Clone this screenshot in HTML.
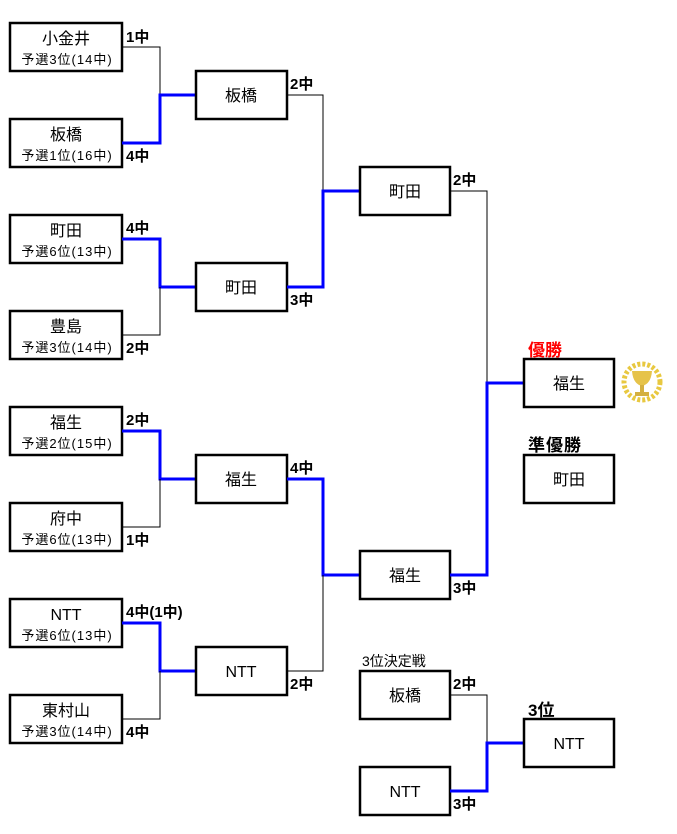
<!DOCTYPE html>
<html><head><meta charset="utf-8"><style>
html,body{margin:0;padding:0;background:#fff;}
svg{display:block;font-family:"Liberation Sans","Noto Sans CJK JP",sans-serif;}
.b{fill:#fff;stroke:#000;stroke-width:2.5;}
.t{fill:none;stroke:#000;stroke-width:1;}
.w{fill:none;stroke:#0000ff;stroke-width:3;}
.n{font-size:16px;text-anchor:middle;}
.s{font-size:13px;text-anchor:middle;letter-spacing:1px;}
.sc{font-size:15px;font-weight:bold;}
</style></head><body>
<svg width="677" height="834" viewBox="0 0 677 834">
<g>
<rect class="b" x="10" y="23" width="112" height="48"/><text class="n" x="66" y="44">小金井</text><text class="s" x="67" y="64">予選3位(14中)</text>
<rect class="b" x="10" y="119" width="112" height="48"/><text class="n" x="66" y="140">板橋</text><text class="s" x="67" y="160">予選1位(16中)</text>
<rect class="b" x="10" y="215" width="112" height="48"/><text class="n" x="66" y="236">町田</text><text class="s" x="67" y="256">予選6位(13中)</text>
<rect class="b" x="10" y="311" width="112" height="48"/><text class="n" x="66" y="332">豊島</text><text class="s" x="67" y="352">予選3位(14中)</text>
<rect class="b" x="10" y="407" width="112" height="48"/><text class="n" x="66" y="428">福生</text><text class="s" x="67" y="448">予選2位(15中)</text>
<rect class="b" x="10" y="503" width="112" height="48"/><text class="n" x="66" y="524">府中</text><text class="s" x="67" y="544">予選6位(13中)</text>
<rect class="b" x="10" y="599" width="112" height="48"/><text class="n" x="66" y="620">NTT</text><text class="s" x="67" y="640">予選6位(13中)</text>
<rect class="b" x="10" y="695" width="112" height="48"/><text class="n" x="66" y="716">東村山</text><text class="s" x="67" y="736">予選3位(14中)</text>
</g>
<polyline class="t" points="122,47 160,47 160,95"/>
<polyline class="w" points="122,143 160,143 160,95 196,95"/>
<polyline class="w" points="122,239 160,239 160,287 196,287"/>
<polyline class="t" points="122,335 160,335 160,287"/>
<polyline class="w" points="122,431 160,431 160,479 196,479"/>
<polyline class="t" points="122,527 160,527 160,479"/>
<polyline class="w" points="122,623 160,623 160,671 196,671"/>
<polyline class="t" points="122,719 160,719 160,671"/>
<text class="sc" x="126" y="42">1中</text>
<text class="sc" x="126" y="161">4中</text>
<text class="sc" x="126" y="233">4中</text>
<text class="sc" x="126" y="353">2中</text>
<text class="sc" x="126" y="425">2中</text>
<text class="sc" x="126" y="545">1中</text>
<text class="sc" x="126" y="617">4中(1中)</text>
<text class="sc" x="126" y="737">4中</text>
<rect class="b" x="196" y="71" width="91" height="48"/><text class="n" x="241" y="101">板橋</text>
<rect class="b" x="196" y="263" width="91" height="48"/><text class="n" x="241" y="293">町田</text>
<rect class="b" x="196" y="455" width="91" height="48"/><text class="n" x="241" y="485">福生</text>
<rect class="b" x="196" y="647" width="91" height="48"/><text class="n" x="241" y="677">NTT</text>
<polyline class="t" points="287,95 323,95 323,191"/>
<polyline class="w" points="287,287 323,287 323,191 360,191"/>
<polyline class="w" points="287,479 323,479 323,575 360,575"/>
<polyline class="t" points="287,671 323,671 323,575"/>
<text class="sc" x="290" y="89">2中</text>
<text class="sc" x="290" y="305">3中</text>
<text class="sc" x="290" y="473">4中</text>
<text class="sc" x="290" y="689">2中</text>
<rect class="b" x="360" y="167" width="90" height="48"/><text class="n" x="405" y="197">町田</text>
<rect class="b" x="360" y="551" width="90" height="48"/><text class="n" x="405" y="581">福生</text>
<polyline class="t" points="450,191 487,191 487,383"/>
<polyline class="w" points="450,575 487,575 487,383 524,383"/>
<text class="sc" x="453" y="185">2中</text>
<text class="sc" x="453" y="593">3中</text>
<text x="528" y="356" font-size="17" font-weight="bold" fill="#ff0000">優勝</text>
<rect class="b" x="524" y="359" width="90" height="48"/><text class="n" x="569" y="389">福生</text>
<text x="528" y="451" font-size="17" font-weight="bold" letter-spacing="1">準優勝</text>
<rect class="b" x="524" y="455" width="90" height="48"/><text class="n" x="569" y="485">町田</text>
<g>
<circle cx="642" cy="382" r="18" fill="none" stroke="#e8c840" stroke-width="5" stroke-dasharray="3 2"/>
<path d="M632,371 L652,371 Q651,384 642,386 Q633,384 632,371 Z" fill="#e6c34a"/>
<rect x="640" y="385" width="4" height="7" fill="#d4b040"/>
<rect x="635" y="392" width="14" height="4" fill="#d4b040"/>
</g>
<text x="362" y="666" font-size="14">3位決定戦</text>
<rect class="b" x="360" y="671" width="90" height="48"/><text class="n" x="405" y="701">板橋</text>
<rect class="b" x="360" y="767" width="90" height="48"/><text class="n" x="405" y="797">NTT</text>
<polyline class="t" points="450,695 487,695 487,743"/>
<polyline class="w" points="450,791 487,791 487,743 524,743"/>
<text class="sc" x="453" y="689">2中</text>
<text class="sc" x="453" y="809">3中</text>
<text x="528" y="716" font-size="17" font-weight="bold">3位</text>
<rect class="b" x="524" y="719" width="90" height="48"/><text class="n" x="569" y="749">NTT</text>
</svg>
</body></html>
